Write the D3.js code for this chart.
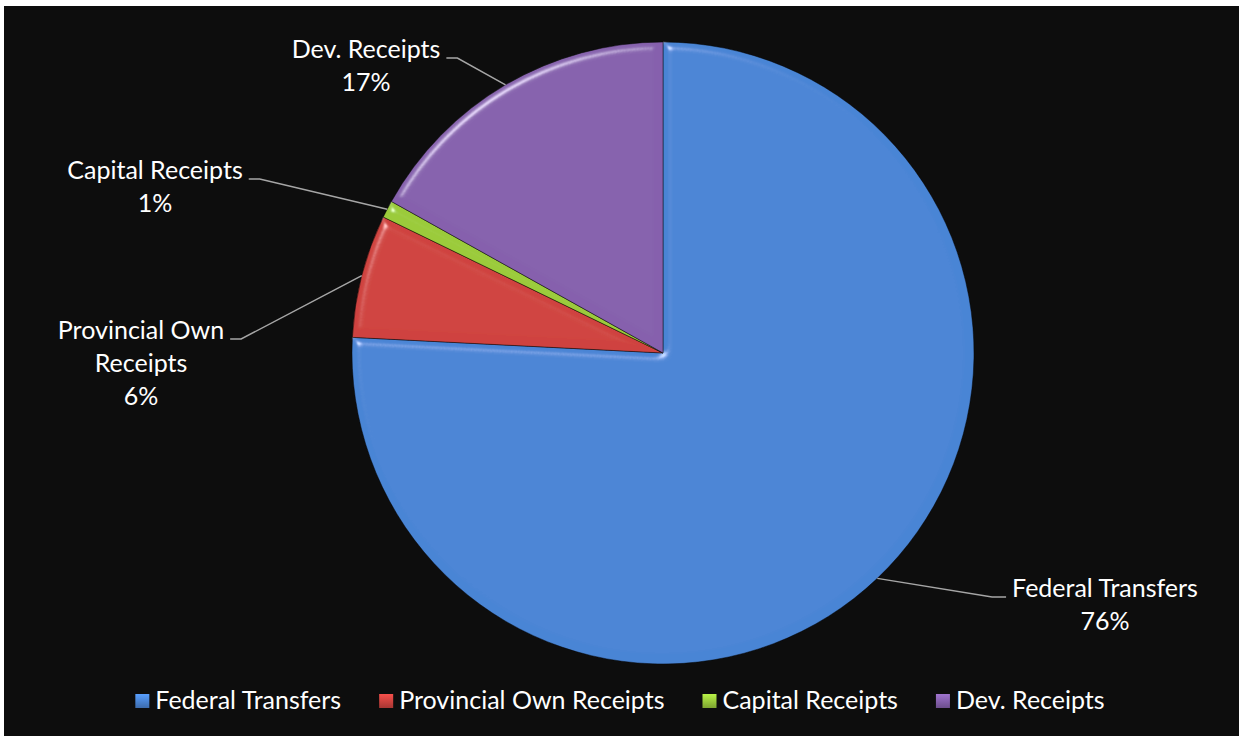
<!DOCTYPE html>
<html>
<head>
<meta charset="utf-8">
<script src="https://cdn.jsdelivr.net/npm/d3@7"></script>
<style>
  html, body { margin: 0; padding: 0; background: #ffffff; }
  svg { display: block; }
</style>
</head>
<body>
<svg id="chart" width="1239" height="736"></svg>
<script>
// data
const categories = ['Federal Transfers', 'Provincial Own Receipts', 'Capital Receipts', 'Dev. Receipts']
const shares = [75.8, 6.4, 0.9, 16.9]
const labelLines = [['Federal Transfers'], ['Provincial Own', 'Receipts'], ['Capital Receipts'], ['Dev. Receipts']]

// styling / layout
const colors = ['#4a85d5', '#cf433f', '#9bcb3b', '#8661ad']
const labelAnchors = [
  { x: 1105, y: 597, side: 'right' },
  { x: 141, y: 339, side: 'left' },
  { x: 155, y: 179, side: 'left' },
  { x: 366, y: 58, side: 'left' }
]
const W = 1239
const H = 736
const cx = 663
const cy = 353
const radius = 311
const fontFamily = 'Lato, "Open Sans", sans-serif'
const fontSize = 25
const lineGap = 33

const svg = d3.select('#chart')

// frame: white edge on top/left, near-black plot area
svg.append('rect').attr('width', W).attr('height', H).attr('fill', '#ffffff')
svg.append('rect').attr('x', 4).attr('y', 6).attr('width', W - 4).attr('height', H - 6).attr('fill', '#0d0d0d')

const defs = svg.append('defs')

// soft bevel, lit from top-left
const bevel = defs.append('filter')
  .attr('id', 'bevel')
  .attr('filterUnits', 'userSpaceOnUse')
  .attr('x', -W).attr('y', -H).attr('width', 2 * W).attr('height', 2 * H)
bevel.append('feGaussianBlur').attr('in', 'SourceAlpha').attr('stdDeviation', 4).attr('result', 'blur')
const spec = bevel.append('feSpecularLighting')
  .attr('in', 'blur')
  .attr('surfaceScale', 5)
  .attr('specularConstant', 0.9)
  .attr('specularExponent', 60)
  .attr('lighting-color', '#ffffff')
  .attr('result', 'spec')
spec.append('feDistantLight').attr('azimuth', 235).attr('elevation', 45)
bevel.append('feComposite').attr('in', 'spec').attr('in2', 'SourceAlpha').attr('operator', 'in').attr('result', 'specIn')
bevel.append('feComposite')
  .attr('in', 'SourceGraphic').attr('in2', 'specIn')
  .attr('operator', 'arithmetic')
  .attr('k1', 0).attr('k2', 1).attr('k3', 0.55).attr('k4', 0)

// legend swatch gradients
colors.forEach((c, i) => {
  const g = defs.append('linearGradient').attr('id', 'sw' + i)
    .attr('x1', 0).attr('y1', 0).attr('x2', 0).attr('y2', 1)
  g.append('stop').attr('offset', '0%').attr('stop-color', d3.color(c).brighter(0.5))
  g.append('stop').attr('offset', '100%').attr('stop-color', d3.color(c).darker(0.6))
})

const pie = d3.pie().sort(null).value(d => d)
const arcs = pie(shares)
const arc = d3.arc().innerRadius(0).outerRadius(radius)
const total = d3.sum(shares)
const pct = d3.format('.0%')

const gPie = svg.append('g').attr('transform', `translate(${cx},${cy})`)

gPie.selectAll('path.slice')
  .data(arcs)
  .join('path')
  .attr('class', 'slice')
  .attr('d', arc)
  .attr('fill', (d, i) => colors[i])
  .attr('stroke', 'rgba(0,0,0,0.45)')
  .attr('stroke-width', 1)
  .attr('filter', 'url(#bevel)')

// data labels + leader lines
const gLabels = svg.append('g')
  .attr('font-family', fontFamily)
  .attr('font-size', fontSize)
  .attr('fill', '#ffffff')

arcs.forEach((d, i) => {
  const a = labelAnchors[i]
  const lines = labelLines[i].concat([pct(shares[i] / total)])
  const t = gLabels.append('text').attr('text-anchor', 'middle')
  lines.forEach((ln, j) => {
    t.append('tspan').attr('x', a.x).attr('y', a.y + j * lineGap).text(ln)
  })
  const firstW = t.select('tspan').node().getComputedTextLength()

  const mid = (d.startAngle + d.endAngle) / 2
  const p0 = [cx + radius * Math.sin(mid), cy - radius * Math.cos(mid)]
  let end, elbow
  if (a.side === 'left') {
    end = a.x + firstW / 2 + 6
    elbow = end + 11
  } else {
    end = a.x - firstW / 2 - 6
    elbow = end - 14
  }
  svg.append('path')
    .attr('d', d3.line()([p0, [elbow, a.y], [end, a.y]]))
    .attr('fill', 'none')
    .attr('stroke', '#a6a6a6')
    .attr('stroke-width', 1.5)
})

// legend
const gLegend = svg.append('g')
  .attr('font-family', fontFamily)
  .attr('font-size', fontSize)
  .attr('fill', '#ffffff')

const sw = 14
const swGap = 6
const itemGap = 38
const items = categories.map((c, i) => {
  const g = gLegend.append('g')
  g.append('rect')
    .attr('y', 694).attr('width', sw).attr('height', sw)
    .attr('fill', `url(#sw${i})`)
  const txt = g.append('text').attr('x', sw + swGap).attr('y', 709).text(c)
  return { g, w: sw + swGap + txt.node().getComputedTextLength() }
})
const legendW = d3.sum(items, d => d.w) + itemGap * (items.length - 1)
let lx = 620 - legendW / 2
items.forEach(it => {
  it.g.attr('transform', `translate(${lx},0)`)
  lx += it.w + itemGap
})
</script>
</body>
</html>
